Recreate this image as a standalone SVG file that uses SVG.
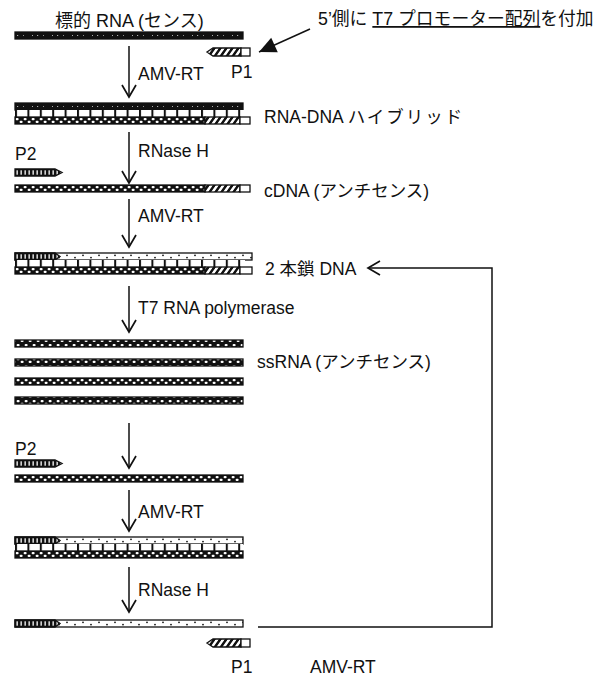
<svg xmlns="http://www.w3.org/2000/svg" width="613" height="679" viewBox="0 0 613 679">
<style>
text{font-family:"Liberation Sans","Noto Sans CJK JP",sans-serif;font-size:17.5px;fill:#111}
.s{stroke:#111;stroke-width:1.3}
.blk{fill:#111}
.chk{fill:url(#pCheck)}
.hat{fill:url(#pHatch)}
.dot{fill:url(#pDots)}
.bar{fill:url(#pBars)}
.lad{fill:url(#pLadder)}
.box{fill:#fff}
.spk{stroke:#fff;stroke-width:0.9;stroke-dasharray:1.2 5 0.8 8 1 4;opacity:0.75;fill:none}
.arr{stroke:#111;stroke-width:1.5;fill:none}
</style>
<defs>
<pattern id="pCheck" width="8" height="7" patternUnits="userSpaceOnUse">
<rect width="8" height="7" fill="#111"/>
<rect x="0.6" y="1.1" width="3" height="2.2" rx="1" fill="#fff"/>
<rect x="4.6" y="3.7" width="3" height="2.2" rx="1" fill="#fff"/>
</pattern>
<pattern id="pHatch" width="6" height="8" patternUnits="userSpaceOnUse" patternTransform="skewX(-35)">
<rect width="6" height="8" fill="#fff"/>
<rect width="3" height="8" fill="#111"/>
</pattern>
<pattern id="pBars" width="4" height="7" patternUnits="userSpaceOnUse">
<rect width="4" height="7" fill="#111"/>
<rect x="1.5" y="1.3" width="1.3" height="4.4" fill="#fff"/>
</pattern>
<pattern id="pDots" width="16" height="7" patternUnits="userSpaceOnUse">
<rect width="16" height="7" fill="#fff"/>
<circle cx="4" cy="2.3" r="0.9" fill="#111"/>
<circle cx="12" cy="4.6" r="0.9" fill="#111"/>
</pattern>
<pattern id="pLadder" width="12.4" height="7" patternUnits="userSpaceOnUse">
<rect width="12.4" height="7" fill="#fff"/>
<rect width="2" height="7" fill="#111"/>
</pattern>
<marker id="mOpen" markerWidth="14" markerHeight="16" refX="0" refY="0" orient="auto" markerUnits="userSpaceOnUse" overflow="visible">
<path d="M-12,-7 L0,0 L-12,7" fill="none" stroke="#111" stroke-width="1.7"/>
</marker>
<marker id="mFill" markerWidth="16" markerHeight="14" refX="0" refY="0" orient="auto" markerUnits="userSpaceOnUse" overflow="visible">
<path d="M-17,-8 L0,0 L-17,8 Z" fill="#111"/>
</marker>
</defs>
<rect width="613" height="679" fill="#fff"/>

<g id="target-rna">
<text x="55" y="27" style="font-size:18px">標的 RNA (センス)</text>
<g transform="translate(15,32)"><rect class="blk s" width="228" height="7"/><path class="spk" d="M2,3.5 H226"/></g>
</g>

<g id="p1-top">
<g transform="translate(207,48)"><path class="hat s" d="M0,4 L6,0 L34,0 L34,8 L6,8 Z"/><rect class="box s" x="34" width="9" height="8"/></g>
<text x="231" y="78">P1</text>
</g>

<g id="note">
<text x="318" y="25" style="font-size:17.8px">5’側に <tspan style="text-decoration:underline">T7 プロモーター配列</tspan>を付加</text>
</g>

<g id="hybrid">
<g transform="translate(15,103)">
<rect class="blk s" width="228" height="7"/><path class="spk" d="M2,3.5 H226"/>
<rect class="lad" x="0" y="7" width="230" height="7"/>
<g transform="translate(0,14)"><rect class="chk s" width="190" height="7"/><rect class="hat s" x="190" width="35" height="7"/><rect class="box s" x="225" width="10" height="7"/></g>
</g>
<text x="264" y="123">RNA-DNA <tspan style="letter-spacing:2px">ハイブリッド</tspan></text>
</g>

<g id="p2-a">
<text x="15" y="160">P2</text>
<g transform="translate(15,169)"><path class="bar s" d="M0,0 L40,0 L47,3.5 L40,7 L0,7 Z"/></g>
</g>

<g id="cdna">
<g transform="translate(15,185)"><rect class="chk s" width="190" height="7"/><rect class="hat s" x="190" width="35" height="7"/><rect class="box s" x="225" width="10" height="7"/></g>
<text x="264" y="197">cDNA (アンチセンス)</text>
</g>

<g id="dsdna">
<g transform="translate(15,253)">
<rect class="dot s" width="237" height="7"/>
<path class="bar s" d="M0,0 L40,0 L45,3.5 L40,7 L0,7 Z"/>
<rect class="lad" x="0" y="7" width="230" height="7"/>
<g transform="translate(0,14)"><rect class="chk s" width="190" height="7"/><rect class="hat s" x="190" width="35" height="7"/><rect class="box s" x="225" width="12" height="7"/></g>
</g>
<text x="265" y="275">2 本鎖 DNA</text>
</g>

<g id="ssrna">
<rect class="chk s" x="15" y="340" width="228" height="7"/>
<rect class="chk s" x="15" y="359" width="228" height="7"/>
<rect class="chk s" x="15" y="378" width="228" height="7"/>
<rect class="chk s" x="15" y="397" width="228" height="7"/>
<text x="257" y="368">ssRNA (アンチセンス)</text>
</g>

<g id="p2-b">
<text x="15" y="455">P2</text>
<g transform="translate(15,460)"><path class="bar s" d="M0,0 L40,0 L47,3.5 L40,7 L0,7 Z"/></g>
<g transform="translate(15,475)"><rect class="chk s" width="228" height="7"/></g>
</g>

<g id="dsdna-2">
<g transform="translate(15,537)">
<rect class="dot s" width="228" height="7"/>
<path class="bar s" d="M0,0 L40,0 L45,3.5 L40,7 L0,7 Z"/>
<rect class="lad" x="0" y="7" width="228" height="7"/>
<rect class="chk s" y="14" width="228" height="7"/>
</g>
</g>

<g id="sense-dna">
<g transform="translate(15,620)">
<rect class="dot s" width="228" height="7"/>
<path class="bar s" d="M0,0 L40,0 L45,3.5 L40,7 L0,7 Z"/>
</g>
</g>

<g id="p1-bottom">
<g transform="translate(207,639)"><path class="hat s" d="M0,4 L6,0 L34,0 L34,8 L6,8 Z"/><rect class="box s" x="34" width="9" height="8"/></g>
<text x="231" y="673">P1</text>
</g>

<g id="connectors">
<line class="arr" x1="129" y1="46" x2="129" y2="97" marker-end="url(#mOpen)"/>
<text x="138" y="80">AMV-RT</text>
<line class="arr" x1="129" y1="132" x2="129" y2="183" marker-end="url(#mOpen)"/>
<text x="138" y="157">RNase H</text>
<line class="arr" x1="129" y1="199" x2="129" y2="247" marker-end="url(#mOpen)"/>
<text x="138" y="222">AMV-RT</text>
<line class="arr" x1="129" y1="286" x2="129" y2="332" marker-end="url(#mOpen)"/>
<text x="138" y="314">T7 RNA polymerase</text>
<line class="arr" x1="129" y1="423" x2="129" y2="468" marker-end="url(#mOpen)"/>
<line class="arr" x1="129" y1="490" x2="129" y2="531" marker-end="url(#mOpen)"/>
<text x="138" y="518">AMV-RT</text>
<line class="arr" x1="129" y1="567" x2="129" y2="612" marker-end="url(#mOpen)"/>
<text x="138" y="596">RNase H</text>
<line class="arr" x1="310" y1="29" x2="259" y2="52" marker-end="url(#mFill)"/>
<path class="arr" d="M258,627 H492 V268 H368" marker-end="url(#mOpen)"/>
<text x="310" y="673">AMV-RT</text>
</g>
</svg>
